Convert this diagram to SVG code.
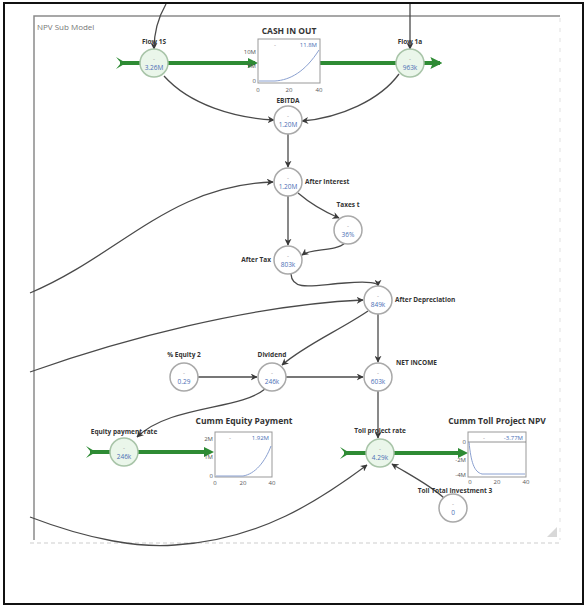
<svg xmlns="http://www.w3.org/2000/svg" width="587" height="607" viewBox="0 0 587 607">
<defs>
<marker id="ah" viewBox="0 0 10 10" refX="9" refY="5" markerWidth="7" markerHeight="7" orient="auto-start-reverse" markerUnits="userSpaceOnUse">
<path d="M0,0 L10,5 L0,10 L3,5 Z" fill="#3a3a3a"/>
</marker>
<marker id="gh" viewBox="0 0 10 10" refX="8" refY="5" markerWidth="12" markerHeight="12" orient="auto" markerUnits="userSpaceOnUse">
<path d="M0,0 L10,5 L0,10 L2,5 Z" fill="#2e8b34"/>
</marker>
<style>
.frame{fill:none;stroke:#8a8a8a;stroke-width:1.5}
.con{fill:none;stroke:#4a4a4a;stroke-width:1.3;marker-end:url(#ah)}
.pipe{fill:none;stroke:#2e8b34;stroke-width:4}
.node{fill:#fff;stroke:#a9a9a9;stroke-width:1.5}
.valve{fill:#eaf6ea;stroke:#a8c4a8;stroke-width:1.5}
.lbl{font-family:"Open Sans","Liberation Sans",sans-serif;font-size:6.5px;font-weight:bold;fill:#333}
.val{font-family:"Open Sans","Liberation Sans",sans-serif;font-size:6.5px;fill:#4a6fb5;text-anchor:middle}
.dash{font-family:"Liberation Sans",sans-serif;font-size:6px;fill:#999;text-anchor:middle}
.gt{font-family:"Open Sans","Liberation Sans",sans-serif;font-size:8.5px;font-weight:bold;fill:#333;text-anchor:middle}
.ax{font-family:"Open Sans","Liberation Sans",sans-serif;font-size:6px;fill:#555}
.gbox{fill:#fff;stroke:#999;stroke-width:1}
.gline{fill:none;stroke:#8aa0d0;stroke-width:1}
.gval{font-family:"Open Sans","Liberation Sans",sans-serif;font-size:6px;fill:#4a6fb5;text-anchor:end}
.tail{fill:#2e8b34}
</style>
</defs>
<rect x="0" y="0" width="587" height="607" fill="#fff"/>
<rect x="4" y="3" width="579" height="601" fill="none" stroke="#111" stroke-width="2"/>
<path class="frame" d="M34,540 L34,16 L560,16"/>
<path d="M30,543 L560,543" fill="none" stroke="#e6e6e6" stroke-width="2" stroke-dasharray="4,3"/>
<path d="M560,18 L560,540" fill="none" stroke="#f0f0f0" stroke-width="2" stroke-dasharray="4,6"/>
<path d="M557,527 L557,537 L547,537 Z" fill="#d8d8d8"/>
<text x="37" y="30" font-family="Open Sans, Liberation Sans, sans-serif" font-size="8" fill="#777">NPV Sub Model</text>

<g id="connectors">
<path class="con" d="M166,4 C158,18 154,32 154,49"/>
<path class="con" d="M410,4 L410,49"/>
<path class="con" d="M164,76 C190,105 235,118 274,120"/>
<path class="con" d="M399,74 C380,100 340,118 302,121"/>
<path class="con" d="M288,134 L288,167"/>
<path class="con" d="M30,293 C120,255 170,185 273,182"/>
<path class="con" d="M288,196 L288,245"/>
<path class="con" d="M298,193 C312,205 325,212 339,218"/>
<path class="con" d="M345,243 C335,252 312,248 302,255"/>
<path class="con" d="M291,274 C292,292 315,285 345,283 C370,281 378,283 378,286"/>
<path class="con" d="M30,372 C120,340 250,305 363,300"/>
<path class="con" d="M378,314 L378,362"/>
<path class="con" d="M368,311 C340,330 305,345 282,365"/>
<path class="con" d="M198,377 L257,377"/>
<path class="con" d="M286,377 L363,377"/>
<path class="con" d="M265,389 C240,410 170,405 137,437"/>
<path class="con" d="M378,391 L378,438"/>
<path class="con" d="M444,498 C430,485 410,475 392,464"/>
<path class="con" d="M30,517 C90,540 140,548 175,545 C260,540 320,500 367,465"/>
</g>

<g id="flow-top">
<path class="pipe" d="M120,63 L255,63"/>
<path class="pipe" d="M320,63 L440,63" marker-end="url(#gh)"/>
<path class="tail" d="M116,57 L126,63 L116,69 L121,63 Z"/>
<path d="M248,58 L258,63 L248,68 Z" fill="#2e8b34"/>
</g>

<g id="flow1s">
<circle class="valve" cx="154" cy="63" r="14"/>
<text class="dash" x="154" y="61">-</text>
<text class="val" x="154" y="70">3.26M</text>
<text class="lbl" x="154" y="44" text-anchor="middle">Flow 1S</text>
</g>

<g id="flow1a">
<circle class="valve" cx="410" cy="63" r="14"/>
<text class="dash" x="410" y="61">-</text>
<text class="val" x="410" y="70">963k</text>
<text class="lbl" x="410" y="44" text-anchor="middle">Flow 1a</text>
</g>

<g id="cash-in-out">
<text class="gt" x="289" y="34">CASH IN OUT</text>
<rect class="gbox" x="258" y="39" width="62" height="44"/>
<text class="dash" x="275" y="47">-</text>
<text class="gval" x="317" y="47">11.8M</text>
<path class="gline" d="M259,81 L275,81 C290,80 305,72 319,50"/>
<text class="ax" x="256" y="54" text-anchor="end">10M</text>
<text class="ax" x="256" y="68" text-anchor="end">5M</text>
<text class="ax" x="256" y="83" text-anchor="end">0</text>
<text class="ax" x="258" y="92" text-anchor="middle">0</text>
<text class="ax" x="289" y="92" text-anchor="middle">20</text>
<text class="ax" x="319" y="92" text-anchor="middle">40</text>
</g>

<g id="ebitda">
<circle class="node" cx="288" cy="120" r="14"/>
<text class="dash" x="288" y="118">-</text>
<text class="val" x="288" y="127">1.20M</text>
<text class="lbl" x="288" y="103" text-anchor="middle">EBITDA</text>
</g>

<g id="after-interest">
<circle class="node" cx="288" cy="182" r="14"/>
<text class="dash" x="288" y="180">-</text>
<text class="val" x="288" y="189">1.20M</text>
<text class="lbl" x="305" y="184">After Interest</text>
</g>

<g id="taxes">
<circle class="node" cx="348" cy="230" r="14"/>
<text class="dash" x="348" y="228">-</text>
<text class="val" x="348" y="237">36%</text>
<text class="lbl" x="348" y="207" text-anchor="middle">Taxes t</text>
</g>

<g id="after-tax">
<circle class="node" cx="288" cy="260" r="14"/>
<text class="dash" x="288" y="258">-</text>
<text class="val" x="288" y="267">803k</text>
<text class="lbl" x="271" y="262" text-anchor="end">After Tax</text>
</g>

<g id="after-depreciation">
<circle class="node" cx="378" cy="300" r="14"/>
<text class="dash" x="378" y="298">-</text>
<text class="val" x="378" y="307">849k</text>
<text class="lbl" x="395" y="302">After Depreciation</text>
</g>

<g id="equity2">
<circle class="node" cx="184" cy="377" r="14"/>
<text class="dash" x="184" y="375">-</text>
<text class="val" x="184" y="384">0.29</text>
<text class="lbl" x="184" y="357" text-anchor="middle">% Equity 2</text>
</g>

<g id="dividend">
<circle class="node" cx="272" cy="377" r="14"/>
<text class="dash" x="272" y="375">-</text>
<text class="val" x="272" y="384">246k</text>
<text class="lbl" x="272" y="357" text-anchor="middle">Dividend</text>
</g>

<g id="net-income">
<circle class="node" cx="378" cy="377" r="14"/>
<text class="dash" x="378" y="375">-</text>
<text class="val" x="378" y="384">603k</text>
<text class="lbl" x="396" y="365">NET INCOME</text>
</g>

<g id="flow-equity">
<path class="pipe" d="M90,452 L208,452"/>
<path class="tail" d="M86,446 L96,452 L86,458 L91,452 Z"/>
<path d="M204,447 L214,452 L204,457 Z" fill="#2e8b34"/>
</g>

<g id="equity-payment-rate">
<circle class="valve" cx="124" cy="452" r="14"/>
<text class="dash" x="124" y="450">-</text>
<text class="val" x="124" y="459">246k</text>
<text class="lbl" x="124" y="434" text-anchor="middle">Equity payment rate</text>
</g>

<g id="cumm-equity-payment">
<text class="gt" x="244" y="424">Cumm Equity Payment</text>
<rect class="gbox" x="215" y="432" width="57" height="45"/>
<text class="dash" x="230" y="440">-</text>
<text class="gval" x="269" y="440">1.92M</text>
<path class="gline" d="M216,476 L243,476 C255,474 265,462 271,446"/>
<text class="ax" x="213" y="441" text-anchor="end">2M</text>
<text class="ax" x="213" y="459" text-anchor="end">1M</text>
<text class="ax" x="213" y="478" text-anchor="end">0</text>
<text class="ax" x="215" y="485" text-anchor="middle">0</text>
<text class="ax" x="243" y="485" text-anchor="middle">20</text>
<text class="ax" x="272" y="485" text-anchor="middle">40</text>
</g>

<g id="flow-toll">
<path class="pipe" d="M344,453 L462,453"/>
<path class="tail" d="M340,447 L350,453 L340,459 L345,453 Z"/>
<path d="M458,448 L468,453 L458,458 Z" fill="#2e8b34"/>
</g>

<g id="toll-project-rate">
<circle class="valve" cx="380" cy="453" r="14"/>
<text class="dash" x="380" y="451">-</text>
<text class="val" x="380" y="460">4.29k</text>
<text class="lbl" x="380" y="433" text-anchor="middle">Toll project rate</text>
</g>

<g id="cumm-toll-project-npv">
<text class="gt" x="497" y="424">Cumm Toll Project NPV</text>
<rect class="gbox" x="468" y="432" width="58" height="45"/>
<text class="dash" x="484" y="440">-</text>
<text class="gval" x="523" y="440">-3.77M</text>
<path d="M468,442 L526,442" fill="none" stroke="#777" stroke-width="0.8"/>
<path class="gline" d="M469,442 C471,462 474,472 482,474 L525,474"/>
<text class="ax" x="466" y="444" text-anchor="end">0</text>
<text class="ax" x="466" y="462" text-anchor="end">-2M</text>
<text class="ax" x="466" y="477" text-anchor="end">-4M</text>
<text class="ax" x="470" y="484" text-anchor="middle">0</text>
<text class="ax" x="497" y="484" text-anchor="middle">20</text>
<text class="ax" x="526" y="484" text-anchor="middle">40</text>
</g>

<g id="toll-total-investment-3">
<circle class="node" cx="453" cy="508" r="14"/>
<text class="dash" x="453" y="506">-</text>
<text class="val" x="453" y="515">0</text>
<text class="lbl" x="455" y="493" text-anchor="middle">Toll Total Investment 3</text>
</g>
</svg>
